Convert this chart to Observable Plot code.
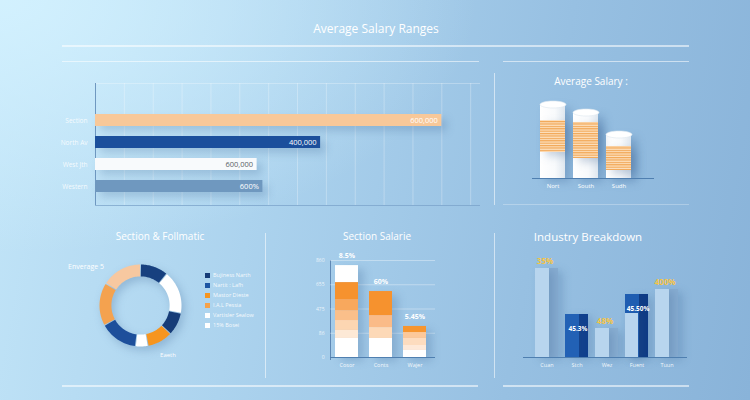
<!DOCTYPE html>
<html><head><meta charset="utf-8">
<script src="https://cdn.jsdelivr.net/npm/d3@7"></script>
<script src="https://cdn.jsdelivr.net/npm/@observablehq/plot@0.6"></script>
<style>
html,body{margin:0;padding:0;}
#wrap{position:relative;width:750px;height:400px;overflow:hidden;font-family:"Open Sans",sans-serif;
background: radial-gradient(ellipse at 0% 0%, rgba(212,242,255,0.9) 0%, rgba(212,242,255,0) 45%), linear-gradient(100deg,#c2e5f8 0%,#acd3ee 35%,#97c0e2 70%,#89b3d9 100%);}
.t{position:absolute;color:#fff;white-space:nowrap;transform:translate(-50%,-50%);}
.ln{position:absolute;background:rgba(255,255,255,0.55);}
.chart{position:absolute;}
.chart svg{overflow:visible;}
.leg{position:absolute;left:205px;top:270px;font-size:5.5px;color:rgba(255,255,255,0.9);}
.leg div{height:10px;display:flex;align-items:center;}
.leg span.sw{display:inline-block;width:5px;height:5px;margin-right:3px;}
</style></head><body>
<svg width="0" height="0" style="position:absolute">
<defs>
<linearGradient id="cylGrad" x1="0" x2="1" y1="0" y2="0"><stop offset="0" stop-color="#ffffff"/><stop offset="0.6" stop-color="#f8fafc"/><stop offset="1" stop-color="#dfe7ef"/></linearGradient>
<pattern id="stripes" patternUnits="userSpaceOnUse" width="4" height="2.4"><rect width="4" height="2.4" fill="#fde2c2"/><rect width="4" height="1.2" fill="#f1a654"/></pattern>
</defs></svg>
<div id="wrap">
  <div class="t" style="left:376px;top:28px;font-size:12px;">Average Salary Ranges</div>
  <div class="ln" style="left:62px;top:45px;width:627px;height:1.5px;"></div>
  <div class="ln" style="left:62px;top:61px;width:417px;height:1px;"></div>
  <div class="ln" style="left:503px;top:61px;width:186px;height:1px;"></div>
  <div class="ln" style="left:494px;top:73px;width:1px;height:132px;"></div>
  <div class="ln" style="left:503px;top:204px;width:186px;height:1px;opacity:0.5"></div>
  <div class="ln" style="left:95px;top:83px;width:385px;height:1px;opacity:0.5"></div>
  <div class="ln" style="left:95px;top:205px;width:385px;height:1px;background:rgba(120,160,200,0.7)"></div>
  <div class="ln" style="left:95px;top:83px;width:1.2px;height:122px;background:#6f98c0"></div>
  <div class="ln" style="left:265px;top:233px;width:1px;height:145px;"></div>
  <div class="ln" style="left:494px;top:233px;width:1px;height:145px;"></div>
  <div class="ln" style="left:62px;top:385px;width:416px;height:1.5px;"></div>
  <div class="ln" style="left:503px;top:385px;width:186px;height:1.5px;"></div>
  <div class="ln" style="left:330px;top:260px;width:1px;height:100px;background:#5f88b5"></div>
  <div class="t" style="left:591px;top:81px;font-size:10px;">Average Salary :</div>
  <div class="t" style="left:160px;top:236px;font-size:10px;">Section &amp; Follmatic</div>
  <div class="t" style="left:86px;top:266px;font-size:7px;">Enverage 5</div>
  <div class="t" style="left:168px;top:355px;font-size:6px;">Eaeth</div>
  <div class="t" style="left:377px;top:236px;font-size:10px;">Section Salarie</div>
  <div class="t" style="left:588px;top:236px;font-size:11.5px;">Industry Breakdown</div>
  <div class="leg" id="legend"></div>
</div>
<script>
// ---------- Panel 1: Average Salary Ranges (horizontal bars)
const rangeCats = ["Section", "North Av", "West Jth", "Western"];
const rangeValues = [600000, 390000, 280000, 290000];
const rangeLabels = ["600,000", "400,000", "600,000", "600%"];
const rangeColors = ["#f8c899", "#1b4f9c", "#f8fafc", "#6f98bf"];
const rangeLabelColors = ["#ffffff", "#ffffff", "#5a5f66", "#ffffff"];
const rangeTicks = [50000,100000,150000,200000,250000,300000,350000,400000,450000,500000,550000,600000,650000];

// ---------- Panel 2: Average Salary (cylinders)
const cylCats = ["Nort", "South", "Sudh"];
const cylTop = [74, 66, 44];
const cylBandLow = [26, 20, 8];
const cylBandHigh = [58, 56, 32];

// ---------- Panel 3: donut
const donutShares = [11, 17, 9, 10, 5, 15, 17, 16];
const donutColors = ["#17407f", "#ffffff", "#163c78", "#f6951f", "#ffffff", "#1d4f9b", "#f4a24f", "#f7c8a0"];
const legendNames = ["Bujiness Narth", "Nartit : Lafh", "Mastor Dieste", "I.A.L Pessia", "Vartisler Sealow", "15% Bosei"];
const legendColors = ["#163c78", "#1d55a3", "#f6951f", "#f5a24a", "#ffffff", "#ffffff"];

// ---------- Panel 4: Section Salarie (stacked)
const stackCats = ["Cosor", "Conts", "Wajer"];
const stackSegments = [[157, 66, 82, 82, 91, 140, 140], [157, 90, 99, 198], [58, 41, 58, 49, 50]];
const stackColors = [
  ["#ffffff", "#fde9d6", "#fcd6b2", "#fabf8a", "#f8a85d", "#f6922e", "#ffffff"],
  ["#ffffff", "#fdd9b7", "#fabb88", "#f6922e"],
  ["#ffffff", "#fee9d9", "#fddcbf", "#fcc89a", "#f6952f"]
];
const stackTopLabels = ["8.5%", "60%", "5.45%"];
const stackTicks = [0, 200, 400, 600, 800];
const stackTickLabels = ["0", "86", "475", "655", "860"];

// ---------- Panel 5: Industry Breakdown
const indCats = ["Cuan", "Stch", "Wez", "Fuent", "Tuun"];
const indValues = [89, 43, 29, 63, 68];
const indInner = [null, null, null, 44, null];
const indLabels = ["35%", "45.3%", "48%", "45.50%", "400%"];
const indLabelInside = [false, true, false, true, false];
const indFront = ["#b8d5ee", "#2261b5", "#b8d5ee", "#1f5db1", "#b8d5ee"];
const indSide = ["#86acd1", "#0f3f8e", "#88aed2", "#0d3a86", "#86acd1"];
const indLabelColors = ["#f6c445", "#ffffff", "#f6c445", "#ffffff", "#f6c445"];

const wrap = document.getElementById("wrap");
function place(node, left, top) {
  const d = document.createElement("div");
  d.className = "chart"; d.style.left = left + "px"; d.style.top = top + "px";
  d.appendChild(node); wrap.appendChild(d);
}
function shadow(node, sel, f) {
  node.querySelectorAll(sel).forEach(g => g.style.filter = f);
}
const baseStyle = {background: "transparent", fontFamily: "Open Sans, sans-serif", overflow: "visible"};

// Panel 1
const rangeData = rangeCats.map((c, i) => ({cat: c, value: rangeValues[i], label: rangeLabels[i], color: rangeColors[i], lc: rangeLabelColors[i]}));
const p1 = Plot.plot({
  width: 450, height: 140, marginLeft: 55, marginRight: 10, marginTop: 8, marginBottom: 10,
  style: baseStyle,
  x: {domain: [0, 667000], axis: null},
  y: {domain: rangeCats, range: [32.8, 122.2], paddingInner: 0.46, paddingOuter: 0.23, axis: null},
  color: {type: "identity"},
  marks: [
    Plot.ruleX(rangeTicks, {stroke: "#ffffff", strokeOpacity: 0.28}),
    Plot.barX(rangeData, {x: "value", y: "cat", fill: "color"}),
    Plot.text(rangeData, {x: "value", y: "cat", text: "label", fill: "lc", textAnchor: "end", dx: -4, fontSize: 7.5}),
    Plot.text(rangeData, {x: 0, y: "cat", text: "cat", fill: "#ffffff", fillOpacity: 0.85, textAnchor: "end", dx: -8, fontSize: 6.5})
  ]
});
shadow(p1, 'g[aria-label="bar"]', "drop-shadow(5px 5px 4px rgba(40,80,130,0.22))");
place(p1, 40, 75);

// Panel 2
const cylData = cylCats.map((c, i) => ({cat: c, top: cylTop[i], lo: cylBandLow[i], hi: cylBandHigh[i]}));
const ellipse = {
  draw(ctx, size) {
    const rx = Math.sqrt(size / Math.PI), ry = rx * 0.27, k = 0.5523;
    ctx.moveTo(-rx, 0);
    ctx.bezierCurveTo(-rx, -ry * k, -rx * k, -ry, 0, -ry);
    ctx.bezierCurveTo(rx * k, -ry, rx, -ry * k, rx, 0);
    ctx.bezierCurveTo(rx, ry * k, rx * k, ry, 0, ry);
    ctx.bezierCurveTo(-rx * k, ry, -rx, ry * k, -rx, 0);
    ctx.closePath();
  }
};
const p2 = Plot.plot({
  width: 150, height: 110, marginLeft: 12, marginRight: 16, marginTop: 5, marginBottom: 17,
  style: baseStyle,
  x: {domain: cylCats, range: [15.1, 116.4], paddingInner: 0.23, paddingOuter: 0.115, axis: null},
  y: {domain: [0, 80], range: [93, 13], axis: null},
  marks: [
    Plot.barY(cylData, {x: "cat", y: "top", fill: "url(#cylGrad)"}),
    Plot.barY(cylData, {x: "cat", y1: "lo", y2: "hi", fill: "url(#stripes)"}),
    Plot.dot(cylData, {x: "cat", y: "top", symbol: ellipse, r: 13, fill: "#ffffff", stroke: "#dce5ee", strokeWidth: 0.6}),
    Plot.ruleY([0], {stroke: "#4f7fb0", strokeWidth: 1.2}),
    Plot.text(cylData, {x: "cat", y: 0, text: "cat", dy: 8, fill: "#ffffff", fontSize: 6})
  ]
});
shadow(p2, 'g[aria-label="bar"]', "drop-shadow(6px 4px 4px rgba(40,80,130,0.25))");
place(p2, 520, 85);

// Panel 3 donut
const total = d3.sum(donutShares);
let acc = 0;
const donutPolys = donutShares.map((s, i) => {
  const a0 = acc / total * 2 * Math.PI, a1 = (acc + s) / total * 2 * Math.PI;
  acc += s;
  const gap = 0.012, n = 24, pts = [];
  for (let k = 0; k <= n; k++) { const a = a0 + gap + (a1 - a0 - 2 * gap) * k / n; pts.push({x: Math.sin(a), y: Math.cos(a)}); }
  for (let k = n; k >= 0; k--) { const a = a0 + gap + (a1 - a0 - 2 * gap) * k / n; pts.push({x: 0.71 * Math.sin(a), y: 0.71 * Math.cos(a)}); }
  return {pts, color: donutColors[i]};
});
const p3 = Plot.plot({
  width: 110, height: 96, margin: 0,
  style: baseStyle,
  x: {domain: [-1, 1], range: [14, 96], axis: null},
  y: {domain: [-1, 1], range: [88, 6], axis: null},
  marks: donutPolys.map(p => Plot.line(p.pts, {x: "x", y: "y", fill: p.color, stroke: "none", curve: "linear-closed"}))
});
p3.style.filter = "drop-shadow(3px 4px 4px rgba(40,80,130,0.25))";
place(p3, 85, 258);
const leg = document.getElementById("legend");
legendNames.forEach((n, i) => {
  const row = document.createElement("div");
  row.innerHTML = `<span class="sw" style="background:${legendColors[i]}"></span>${n}`;
  leg.appendChild(row);
});

// Panel 4 stacked bars
const stackData = [];
stackCats.forEach((c, i) => stackSegments[i].forEach((v, j) => stackData.push({cat: c, v, color: stackColors[i][j]})));
const stackTotals = stackCats.map((c, i) => ({cat: c, total: d3.sum(stackSegments[i]), label: stackTopLabels[i]}));
const tickData = stackTicks.map((t, i) => ({v: t, label: stackTickLabels[i]}));
const p4 = Plot.plot({
  width: 150, height: 125, marginLeft: 30, marginRight: 15, marginTop: 10, marginBottom: 18,
  style: baseStyle,
  x: {domain: stackCats, range: [29.4, 132.1], paddingInner: 0.33, paddingOuter: 0.165, axis: null},
  y: {domain: [0, 800], range: [107, 10], axis: null},
  color: {type: "identity"},
  marks: [
    Plot.ruleY(stackTicks.slice(1), {stroke: "#ffffff", strokeOpacity: 0.35}),
    Plot.barY(stackData, {x: "cat", y: "v", fill: "color"}),
    Plot.ruleY([0], {stroke: "#4f7fb0", strokeWidth: 1.2}),
    Plot.text(tickData, {y: "v", text: "label", frameAnchor: "left", dx: -6, textAnchor: "end", fill: "#ffffff", fillOpacity: 0.8, fontSize: 5}),
    Plot.text(stackTotals, {x: "cat", y: "total", text: "label", dy: -10, fill: "#ffffff", fontSize: 7, fontWeight: "bold"}),
    Plot.text(stackCats, {x: d => d, y: 0, text: d => d, dy: 8, fill: "#ffffff", fillOpacity: 0.9, fontSize: 5.5})
  ]
});
shadow(p4, 'g[aria-label="bar"]', "drop-shadow(6px 4px 4px rgba(40,80,130,0.22))");
place(p4, 300, 250);

// Panel 5 Industry
const indData = indCats.map((c, i) => ({cat: c, value: indValues[i], inner: indInner[i], label: indLabels[i], inside: indLabelInside[i], front: indFront[i], side: indSide[i], lc: indLabelColors[i]}));
const p5 = Plot.plot({
  width: 180, height: 125, marginLeft: 8, marginRight: 8, marginTop: 10, marginBottom: 18,
  style: baseStyle,
  x: {domain: indCats, range: [14.75, 167.25], paddingInner: 0.25, paddingOuter: 0.125, axis: null},
  y: {domain: [0, 100], range: [107, 7], axis: null},
  color: {type: "identity"},
  marks: [
    Plot.barY(indData, {x: "cat", y: "value", fill: "side", insetLeft: 14}),
    Plot.barY(indData, {x: "cat", y: "value", fill: "front", insetRight: 9}),
    Plot.barY(indData.filter(d => d.inner != null), {x: "cat", y: "inner", fill: "#b8d5ee", insetRight: 10}),
    Plot.ruleY([0], {stroke: "#4f7fb0", strokeWidth: 1.2}),
    Plot.text(indData.filter(d => !d.inside), {x: "cat", y: "value", text: "label", dy: -7, dx: -2, fill: "lc", fontSize: 8, fontWeight: "bold"}),
    Plot.text(indData.filter(d => d.inside), {x: "cat", y: "value", text: "label", dy: 14, dx: 1, fill: "lc", fontSize: 6.5, fontWeight: "bold"}),
    Plot.text(indData, {x: "cat", y: 0, text: "cat", dy: 8, fill: "#ffffff", fillOpacity: 0.9, fontSize: 5.5})
  ]
});
shadow(p5, 'g[aria-label="bar"]', "drop-shadow(5px 3px 4px rgba(40,80,130,0.2))");
place(p5, 515, 250);
</script>
</body></html>
